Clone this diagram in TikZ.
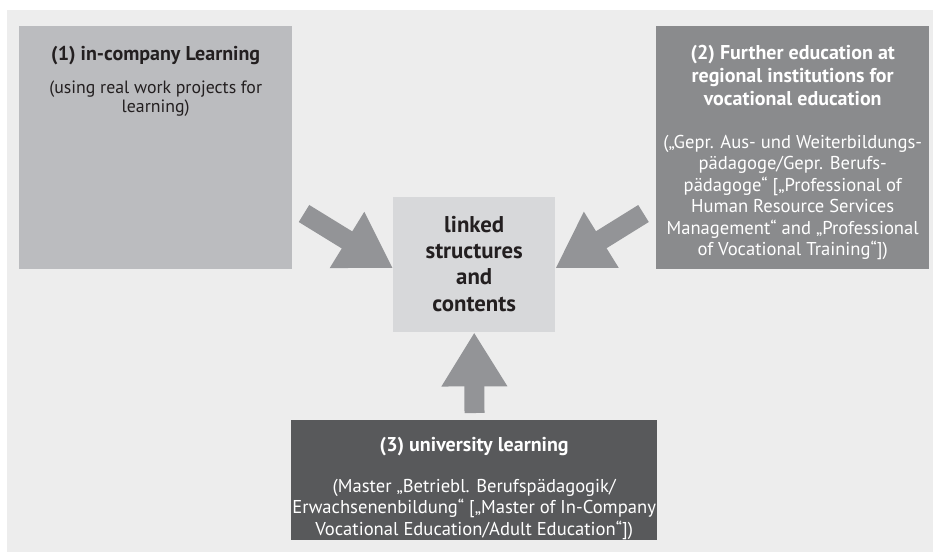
\documentclass[tikz,border=0pt]{standalone}
\usepackage{fontspec}
\setmainfont{PT Sans}
\usetikzlibrary{arrows.meta}

\definecolor{paper}{HTML}{EDEDED}
\definecolor{lightbox}{HTML}{BBBCBF}
\definecolor{midbox}{HTML}{8A8B8D}
\definecolor{darkbox}{HTML}{58595B}
\definecolor{corebox}{HTML}{D7D8DA}
\definecolor{arrowgray}{HTML}{939497}
\definecolor{ink}{HTML}{231F20}

\begin{document}
\begin{tikzpicture}[x=1pt, y=-1pt,
  box/.style = {rectangle, inner sep=0pt, anchor=north west},
  head/.style = {font=\fontsize{20}{23}\selectfont\bfseries,
    align=center, anchor=north, inner sep=0pt},
  body/.style = {font=\fontsize{18.6}{21.5}\selectfont,
    align=center, anchor=north, inner sep=0pt},
  link/.style = {draw=arrowgray, line width=20pt,
    -{Triangle[length=54pt, width=62pt]}}]
  \useasboundingbox (0,0) rectangle (933,551);
  \fill[white] (0,0) rectangle (933,551);
  \fill[paper] (7,10) rectangle (941,558);

  % the three sources and the core
  \node[box, fill=lightbox, minimum width=273pt, minimum height=243pt]
    (inco) at (19,26) {};
  \node[box, fill=midbox, minimum width=273pt, minimum height=243pt]
    (further) at (656,26) {};
  \node[box, fill=darkbox, minimum width=366pt, minimum height=120pt]
    (uni) at (291,420) {};
  \node[box, fill=corebox, minimum width=162pt, minimum height=135pt]
    (core) at (393,197) {};

  % texts
  \node[head, text=ink] (inco-head) at ([yshift=-20pt]inco.north)
    {(1) in-company Learning};
  \node[body, text=ink, font=\fontsize{17.8}{18.5}\selectfont]
    (inco-body) at ([yshift=-55pt]inco.north)
    {(using real work projects for\\learning)};
  \node[head, text=white] (further-head) at ([yshift=-19.5pt]further.north)
    {(2) Further education at\\regional institutions for\\vocational education};
  \node[body, text=white] (further-body) at ([yshift=-109pt]further.north)
    {(„Gepr. Aus- und Weiterbildungs-\\pädagoge/Gepr. Berufs-\\
     pädagoge“ [„Professional of\\Human Resource Services\\
     Management“ and „Professional\\of Vocational Training“])};
  \node[head, text=white] (uni-head) at ([yshift=-17pt]uni.north)
    {(3) university learning};
  \node[body, text=white] (uni-body) at ([yshift=-59pt]uni.north)
    {(Master „Betriebl. Berufspädagogik/\\
     Erwachsenenbildung“ [„Master of In-Company\\
     Vocational Education/Adult Education“])};
  \node[head, text=ink, anchor=center, font=\fontsize{22.8}{26.3}\selectfont\bfseries]
    (core-text) at ([yshift=1pt]core.center) {linked\\structures\\and\\contents};

  % block arrows into the core
  \coordinate (inco-tail) at (304,213.5);
  \coordinate (further-tail) at (643.5,213.5);
  \coordinate (uni-tail) at (474.5,413);
  \draw[link] (inco-tail) -- ([yshift=-3.5pt]core.west);
  \draw[link] (further-tail) -- ([yshift=-3.5pt]core.east);
  \draw[link] (uni-tail) -- (core.south);
\end{tikzpicture}
\end{document}
